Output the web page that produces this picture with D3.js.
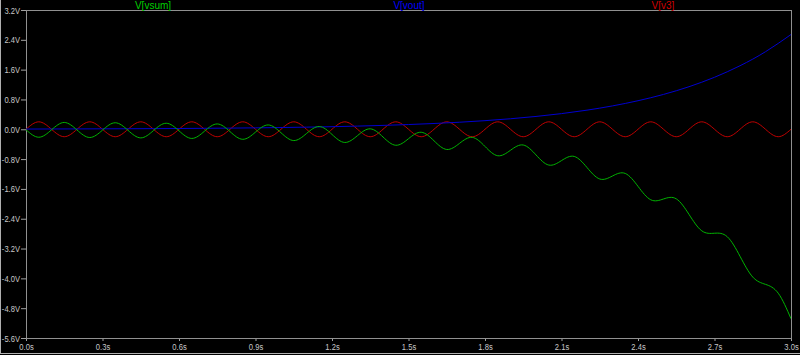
<!DOCTYPE html>
<html>
<head>
<meta charset="utf-8">
<script src="https://cdn.jsdelivr.net/npm/d3@7"></script>
<style>
  html, body { margin: 0; padding: 0; background: #000; }
  svg { display: block; }
</style>
</head>
<body>
<svg id="chart"></svg>
<script>
// transient analysis: V(vsum), V(vout), V(v3)
var width = 800;
var height = 355;

var seriesNames = ['V[vsum]', 'V[vout]', 'V[v3]'];
var yTicks = [3.2, 2.4, 1.6, 0.8, 0.0, -0.8, -1.6, -2.4, -3.2, -4.0, -4.8, -5.6];
var xTicks = [0.0, 0.3, 0.6, 0.9, 1.2, 1.5, 1.8, 2.1, 2.4, 2.7, 3.0];

// sample times, 0.05 s apart
var timeFine = [0.00, 0.05, 0.10, 0.15, 0.20, 0.25, 0.30, 0.35, 0.40, 0.45,
  0.50, 0.55, 0.60, 0.65, 0.70, 0.75, 0.80, 0.85, 0.90, 0.95,
  1.00, 1.05, 1.10, 1.15, 1.20, 1.25, 1.30, 1.35, 1.40, 1.45,
  1.50, 1.55, 1.60, 1.65, 1.70, 1.75, 1.80, 1.85, 1.90, 1.95,
  2.00, 2.05, 2.10, 2.15, 2.20, 2.25, 2.30, 2.35, 2.40, 2.45,
  2.50, 2.55, 2.60, 2.65, 2.70, 2.75, 2.80, 2.85, 2.90, 2.95, 3.00];

var v3 = [0, 0.2, 0, -0.2, 0, 0.2, 0, -0.2, 0, 0.2,
  0, -0.2, 0, 0.2, 0, -0.2, 0, 0.2, 0, -0.2,
  0, 0.2, 0, -0.2, 0, 0.2, 0, -0.2, 0, 0.2,
  0, -0.2, 0, 0.2, 0, -0.2, 0, 0.2, 0, -0.2,
  0, 0.2, 0, -0.2, 0, 0.2, 0, -0.2, 0, 0.2,
  0, -0.2, 0, 0.2, 0, -0.2, 0, 0.2, 0, -0.2, 0];

var vsum = [-0.013, -0.214, -0.015, 0.183, -0.019, -0.221, -0.023, 0.175, -0.028, -0.231,
  -0.034, 0.162, -0.042, -0.246, -0.051, 0.143, -0.062, -0.269, -0.076, 0.116,
  -0.093, -0.303, -0.114, 0.074, -0.139, -0.354, -0.170, 0.012, -0.207, -0.429,
  -0.253, -0.080, -0.309, -0.542, -0.378, -0.217, -0.461, -0.710, -0.563, -0.422,
  -0.688, -0.960, -0.840, -0.729, -1.026, -1.334, -1.253, -1.185, -1.531, -1.892,
  -1.870, -1.866, -2.284, -2.724, -2.789, -2.883, -3.407, -3.965, -4.161, -4.399, -5.083];

// vout sampled every 0.1 s
var timeCoarse = [0.0, 0.1, 0.2, 0.3, 0.4, 0.5, 0.6, 0.7, 0.8, 0.9,
  1.0, 1.1, 1.2, 1.3, 1.4, 1.5, 1.6, 1.7, 1.8, 1.9,
  2.0, 2.1, 2.2, 2.3, 2.4, 2.5, 2.6, 2.7, 2.8, 2.9, 3.0];
var vout = [0.006, 0.008, 0.009, 0.012, 0.014, 0.017, 0.021, 0.026, 0.031, 0.038,
  0.047, 0.057, 0.069, 0.085, 0.104, 0.127, 0.155, 0.189, 0.231, 0.282,
  0.344, 0.420, 0.513, 0.627, 0.766, 0.935, 1.142, 1.395, 1.704, 2.081, 2.542];

var colors = {'V[vsum]': '#00b400', 'V[vout]': '#0000d0', 'V[v3]': '#c00000'};
var legendColors = {'V[vsum]': '#00d000', 'V[vout]': '#0000ff', 'V[v3]': '#d00000'};

var labelFont = '"Liberation Sans", Arial, sans-serif';
var squeeze = 0.8; // tick labels are narrow in the original

var margin = {top: 10, right: 9, bottom: 17, left: 26};
var x = d3.scaleLinear().domain([0, 3]).range([margin.left, width - margin.right]);
var y = d3.scaleLinear().domain([-5.6, 3.2]).range([height - margin.bottom, margin.top]);

var svg = d3.select('#chart').attr('width', width).attr('height', height)
  .style('font-family', labelFont);

svg.append('rect').attr('width', width).attr('height', height).attr('fill', '#000');

// window frame bits
svg.append('line').attr('x1', 0.5).attr('x2', 0.5).attr('y1', 0).attr('y2', 354)
  .attr('stroke', '#b0b0b0');
svg.append('line').attr('x1', 0).attr('x2', width).attr('y1', 353.5).attr('y2', 353.5)
  .attr('stroke', '#b0b0b0');

svg.append('defs').append('clipPath').attr('id', 'plot')
  .append('rect')
  .attr('x', margin.left).attr('y', margin.top)
  .attr('width', width - margin.left - margin.right)
  .attr('height', height - margin.top - margin.bottom);

// axes
var yAxis = svg.append('g')
  .attr('transform', `translate(${margin.left},0)`)
  .call(d3.axisLeft(y).tickValues(yTicks).tickSize(5).tickPadding(1)
    .tickFormat(d => d.toFixed(1) + 'V'));

var xAxis = svg.append('g')
  .attr('transform', `translate(0,${height - margin.bottom})`)
  .call(d3.axisBottom(x).tickValues(xTicks).tickSize(3).tickPadding(2)
    .tickFormat(d => d.toFixed(1) + 's'));

[yAxis, xAxis].forEach(function(a) {
  a.select('.domain').remove();
  a.selectAll('line').attr('stroke', '#a0a0a0');
  a.selectAll('text').attr('fill', '#c8c8c8')
    .attr('font-family', labelFont)
    .style('font-size', '9.5px');
});

// narrow the labels without moving their anchor points
yAxis.selectAll('text')
  .attr('x', -6 / squeeze)
  .attr('transform', `scale(${squeeze},1)`);
xAxis.selectAll('text')
  .attr('transform', `scale(${squeeze},1)`);

svg.append('rect')
  .attr('x', margin.left + 0.5).attr('y', margin.top + 0.5)
  .attr('width', width - margin.left - margin.right)
  .attr('height', height - margin.top - margin.bottom)
  .attr('fill', 'none').attr('stroke', '#909090');

// traces
var line = d3.line()
  .x(d => x(d[0]))
  .y(d => y(d[1]))
  .curve(d3.curveNatural);

var traces = [
  {name: 'V[v3]', t: timeFine, v: v3},
  {name: 'V[vout]', t: timeCoarse, v: vout},
  {name: 'V[vsum]', t: timeFine, v: vsum}
];

svg.append('g').attr('clip-path', 'url(#plot)')
  .selectAll('path')
  .data(traces)
  .enter().append('path')
    .attr('fill', 'none')
    .attr('stroke', d => colors[d.name])
    .attr('stroke-width', 1)
    .attr('d', d => line(d.t.map((t, i) => [t, d.v[i]])));

// legend labels above the plot
var legendX = {'V[vsum]': 153, 'V[vout]': 409, 'V[v3]': 663};
svg.selectAll('.legend')
  .data(seriesNames)
  .enter().append('text')
    .attr('class', 'legend')
    .attr('x', d => legendX[d])
    .attr('y', 9)
    .attr('text-anchor', 'middle')
    .attr('fill', d => legendColors[d])
    .style('font-size', '10px')
    .text(d => d);
</script>
</body>
</html>
